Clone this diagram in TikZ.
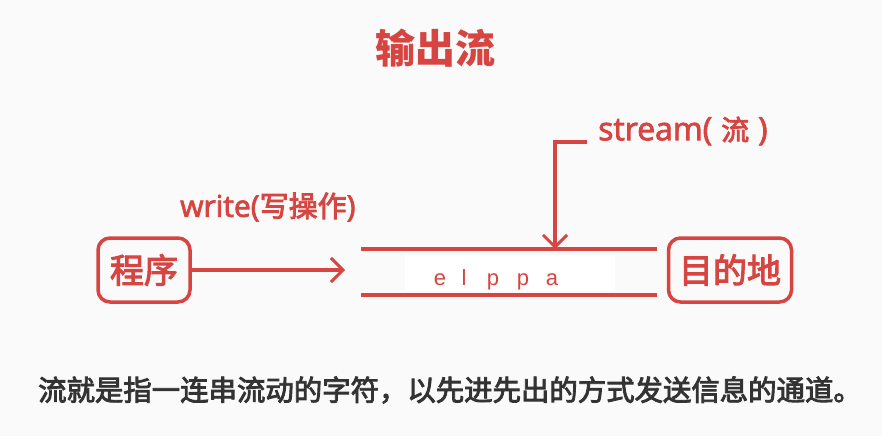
\documentclass[tikz,border=0pt]{standalone}
\usepackage{fontspec}
\setmainfont{Noto Sans CJK SC}[FakeBold=3]
\newfontfamily\titlefont{Noto Sans CJK SC}
\newfontfamily\latinfont{Open Sans}[FakeBold=2.5]
\newfontfamily\plainfont{Liberation Sans}
\usetikzlibrary{arrows.meta}
\definecolor{flowred}{HTML}{D64541}
\definecolor{textgray}{HTML}{333333}
\definecolor{paper}{HTML}{FAFAFA}

\begin{document}
\begin{tikzpicture}[x=1pt,y=-1pt,
  endbox/.style={draw=flowred,line width=3.5pt,rounded corners=12pt,text=flowred,
    font=\fontsize{34}{34}\selectfont,inner sep=0pt},
  pipe/.style={flowred,line width=3.5pt},
  flowarrow/.style={flowred,line width=3.5pt,-{Straight Barb[length=12pt,width=24pt,line width=3pt]}},
  lbl/.style={text=flowred,font=\fontsize{29}{29}\selectfont,inner sep=0pt}]
\useasboundingbox[fill=paper] (0,0) rectangle (882,436);
\node [text=flowred,font=\titlefont\bfseries\fontsize{40}{40}\selectfont] (title) at (435,48) {输出流};
\node [endbox,minimum width=92pt,minimum height=64pt] (prog) at (144,270) {程序};
\node [endbox,minimum width=123pt,minimum height=64pt] (dest) at (730,270) {目的地};
\coordinate (topL) at (361,249);
\coordinate (topR) at (657,249);
\coordinate (botL) at (361,295);
\coordinate (botR) at (657,295);
\fill [white] (405,255) rectangle (615,291);
\draw [pipe] (topL) -- (topR);
\draw [pipe] (botL) -- (botR);
\coordinate (wend) at (345,270);
\draw [flowarrow] (prog) -- (wend);
\node [lbl,anchor=west] (write) at (180,207) {{\latinfont\fontsize{30}{30}\selectfont write(}写操作{\latinfont\fontsize{30}{30}\selectfont )}};
\coordinate (sstart) at (587,142);
\coordinate (stip) at (555,249);
\draw [flowarrow] (sstart) -| (stip);
\node [lbl,anchor=west] (stream) at (598,131) {{\latinfont\fontsize{32}{32}\selectfont stream(}\hspace{9pt}{\fontsize{28}{28}\selectfont 流}\hspace{9pt}{\latinfont\fontsize{32}{32}\selectfont )}};
\foreach \c/\x [count=\i] in {e/440,l/464,p/493,p/523,a/552}
  \node [text=flowred,font=\plainfont\fontsize{22}{22}\selectfont,anchor=base] (c\i) at (\x,285) {\c};
\node [text=textgray,font=\fontsize{28.4}{28.4}\selectfont] (desc) at (450,390)
  {流就是指一连串流动的字符，以先进先出的方式发送信息的通道。};
\end{tikzpicture}
\end{document}
